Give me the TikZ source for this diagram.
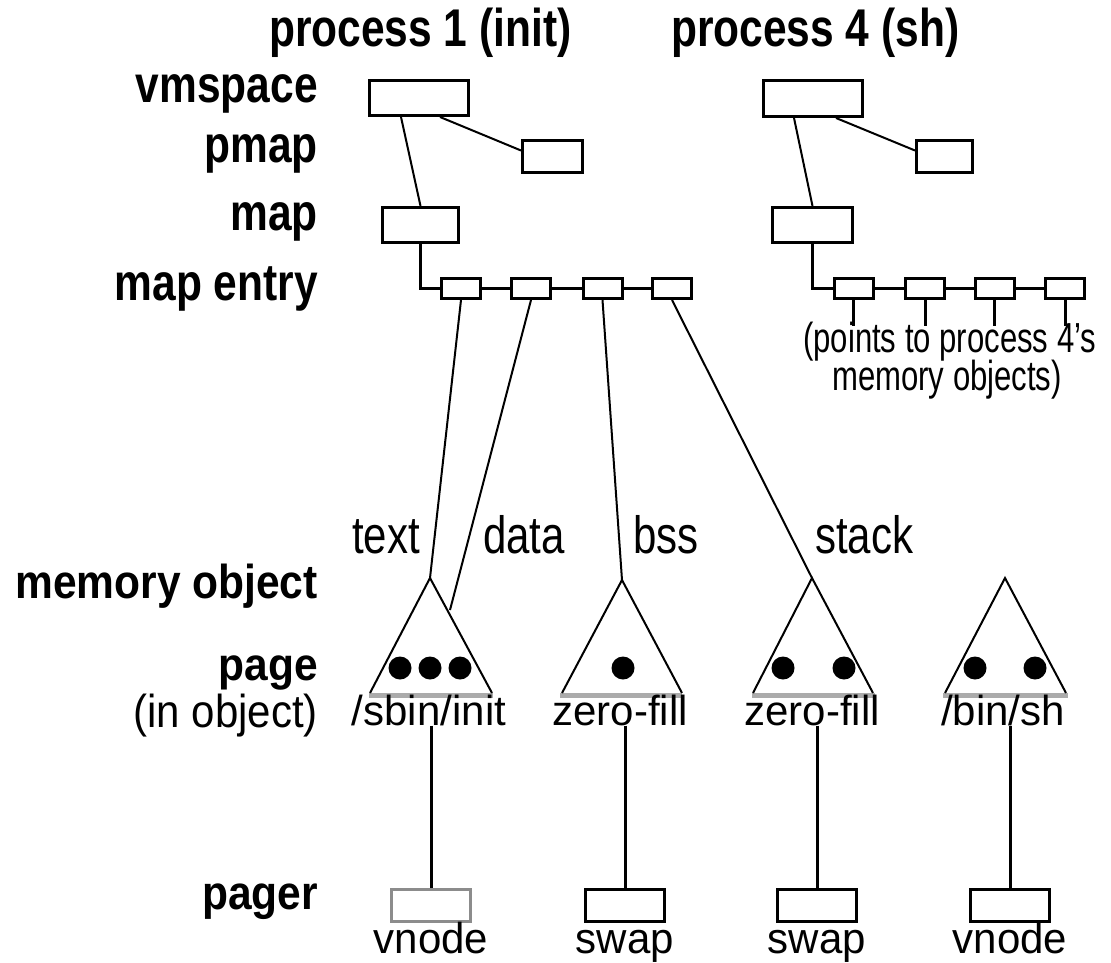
\documentclass[tikz,border=0pt]{standalone}
\usepackage{fontspec}
\usepackage{graphicx}
\setmainfont{Liberation Sans}
\usetikzlibrary{calc}
\newcommand\vsc[2]{\scalebox{1}[#1]{#2}}
\newcommand\hsc[2]{\scalebox{#1}[1]{#2}}
\begin{document}
\begin{tikzpicture}[x=1pt,y=-1pt,
  box/.style={draw, line width=3pt, inner sep=0pt},
  ebox/.style={box, minimum width=39pt, minimum height=20pt},
  pbox/.style={box, minimum width=79pt, minimum height=32pt},
  conn/.style={line width=2pt},
  heavy/.style={line width=3pt},
  lab/.style={anchor=base east, inner sep=0pt, font=\fontsize{42.5}{48}\selectfont\bfseries},
  plab/.style={anchor=base east, inner sep=0pt, font=\fontsize{42}{48}\selectfont},
  tl/.style={anchor=base west, inner sep=0pt, font=\fontsize{42}{48}\selectfont},
  bl/.style={anchor=base, inner sep=0pt, font=\fontsize{42}{48}\selectfont},
  tri/.style={line width=2pt, line join=miter},
  basel/.style={line width=5pt, color=black!33},
  dot/.style={fill=black, circle, inner sep=0pt, minimum size=23pt}]
\useasboundingbox (0,0) rectangle (1111,963);

% headings
\node[lab, anchor=base west] (h1) at (269,47) {\vsc{1.25}{process 1 (init)}};
\node[lab, anchor=base west] (h4) at (671,47) {\vsc{1.25}{process 4 (sh)}};

% row labels
\node[lab] (lvm) at (318,103) {\vsc{1.22}{vmspace}};
\node[lab] (lpm) at (318,163) {\vsc{1.22}{pmap}};
\node[lab] (lmp) at (318,230) {\vsc{1.22}{map}};
\node[lab] (lme) at (318,300) {\vsc{1.22}{map entry}};
\node[lab] (lmo) at (318,598) {\vsc{1.12}{memory object}};
\node[lab] (lpg) at (318,680) {\vsc{1.08}{page}};
\node[plab] (lio) at (318,727) {\vsc{1.1}{(in object)}};
\node[lab] (lpr) at (318,909) {\vsc{1.12}{pager}};

% process 1 structures
\node[box, minimum width=99pt, minimum height=35pt] (vs1) at (419,98) {};
\node[box, minimum width=60pt, minimum height=32pt] (pm1) at (552.5,156.5) {};
\node[box, minimum width=76pt, minimum height=35pt] (mp1) at (420.5,225) {};
\node[ebox] (e11) at (461,288.5) {};
\node[ebox] (e12) at (531,288.5) {};
\node[ebox] (e13) at (602.5,288.5) {};
\node[ebox] (e14) at (672,288.5) {};

\draw[conn] ($(vs1.south west)+(33,0)$) -- (mp1.north);
\draw[conn] ($(vs1.south west)+(72,0)$) -- ($(pm1.west)+(0,-6)$);
\draw[heavy] (mp1.south) |- (e11.west);
\draw[heavy] (e11.east) -- (e12.west);
\draw[heavy] (e12.east) -- (e13.west);
\draw[heavy] (e13.east) -- (e14.west);

% process 4 structures
\node[box, minimum width=99pt, minimum height=36pt] (vs4) at (813,98.5) {};
\node[box, minimum width=56pt, minimum height=32pt] (pm4) at (944.5,156.5) {};
\node[box, minimum width=80pt, minimum height=35pt] (mp4) at (812.5,225) {};
\node[ebox] (e41) at (853.5,288.5) {};
\node[ebox] (e42) at (925,288.5) {};
\node[ebox] (e43) at (994.5,288.5) {};
\node[ebox] (e44) at (1065,288.5) {};

\draw[conn] ($(vs4.south west)+(32,0)$) -- (mp4.north);
\draw[conn] ($(vs4.south west)+(74,0)$) -- ($(pm4.west)+(0,-6)$);
\draw[heavy] (mp4.south) |- (e41.west);
\draw[heavy] (e41.east) -- (e42.west);
\draw[heavy] (e42.east) -- (e43.west);
\draw[heavy] (e43.east) -- (e44.west);

\coordinate (c41) at (853.5,326);
\coordinate (c42) at (925,326);
\coordinate (c43) at (994.5,326);
\coordinate (c44) at (1065,326);
\draw[heavy] (e41.south) -- (c41);
\draw[heavy] (e42.south) -- (c42);
\draw[heavy] (e43.south) -- (c43);
\draw[heavy] (e44.south) -- (c44);

\node[tl] (pt1) at (803,352) {\hsc{0.74}{(points to process 4's}};
\node[tl] (pt2) at (832,390) {\hsc{0.74}{memory objects)}};

% memory objects (triangles)
\coordinate (t1) at (430,578);
\coordinate (t2) at (622,580);
\coordinate (t3) at (812,578);
\coordinate (t4) at (1005,578);
\coordinate (d1) at (450,610);

\draw[basel] (369,695) -- (493,695);
\draw[basel] (560,695) -- (682,695);
\draw[basel] (752,695) -- (875,695);
\draw[basel] (943,695) -- (1068,695);

\draw[tri] ($(t1)+(-60,115)$) -- (t1) -- ($(t1)+(62,115)$);
\draw[tri] ($(t2)+(-60,113)$) -- (t2) -- ($(t2)+(60,113)$);
\draw[tri] ($(t3)+(-59,115)$) -- (t3) -- ($(t3)+(61,115)$);
\draw[tri] ($(t4)+(-60,115)$) -- (t4) -- ($(t4)+(61,115)$);

\node[dot] (p11) at (400,668) {};
\node[dot] (p12) at (430,668) {};
\node[dot] (p13) at (460,668) {};
\node[dot] (p21) at (623,668) {};
\node[dot] (p31) at (783,668) {};
\node[dot] (p32) at (844,668) {};
\node[dot] (p41) at (975,668) {};
\node[dot] (p42) at (1035,668) {};

% segment labels
\node[tl] (ltext) at (352,553) {\vsc{1.25}{text}};
\node[tl] (ldata) at (483,553) {\vsc{1.25}{data}};
\node[tl] (lbss) at (633,553) {\vsc{1.25}{bss}};
\node[tl] (lstack) at (815,553) {\vsc{1.25}{stack}};

\draw[conn] (e11.south) -- (t1);
\draw[conn] (e12.south) -- (d1);
\draw[conn] (e13.south) -- (t2);
\draw[conn] (e14.south) -- (t3);

% object names
\node[bl] (lb1) at (429,725) {/sbin/init};
\node[bl] (lb2) at (620,725) {zero-fill};
\node[bl] (lb3) at (812,725) {zero-fill};
\node[bl] (lb4) at (1003,725) {/bin/sh};

% pagers
\node[pbox, draw=black!45] (pg1) at (431,905.5) {};
\node[pbox] (pg2) at (625,905.5) {};
\node[pbox] (pg3) at (817,905.5) {};
\node[pbox] (pg4) at (1010,905.5) {};

\draw[heavy] (pg1.north |- lb1.south) -- (pg1.north);
\draw[heavy] (pg2.north |- lb2.south) -- (pg2.north);
\draw[heavy] (pg3.north |- lb3.south) -- (pg3.north);
\draw[heavy] (pg4.north |- lb4.south) -- (pg4.north);

\node[bl] (lv1) at (431,953) {\vsc{1.03}{vnode}};
\node[bl] (ls2) at (625,953) {\vsc{1.03}{swap}};
\node[bl] (ls3) at (817,953) {\vsc{1.03}{swap}};
\node[bl] (lv4) at (1010,953) {\vsc{1.03}{vnode}};
\end{tikzpicture}
\end{document}
